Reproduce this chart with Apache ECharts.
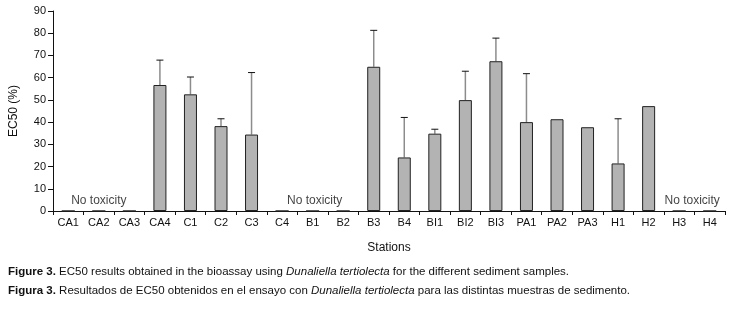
<!DOCTYPE html>
<html>
<head>
<meta charset="utf-8">
<script src="https://cdn.jsdelivr.net/npm/echarts@6/dist/echarts.min.js"></script>
<style>
  html, body { margin: 0; padding: 0; background: #fff; }
  #chart { width: 731px; height: 311px; }
</style>
</head>
<body>
<div id="chart"></div>
<script>
const stations = ['CA1', 'CA2', 'CA3', 'CA4', 'C1', 'C2', 'C3', 'C4', 'B1', 'B2', 'B3', 'B4',
  'BI1', 'BI2', 'BI3', 'PA1', 'PA2', 'PA3', 'H1', 'H2', 'H3', 'H4'];
// EC50 (%) per station, 0 = no toxicity
const ec50 = [0, 0, 0, 56.7, 52.5, 38.2, 34.4, 0, 0, 0, 64.9, 24.1,
  34.8, 49.9, 67.4, 40.0, 41.3, 37.7, 21.4, 47.2, 0, 0];
// upper end of the error bar (null = none)
const errTop = [null, null, null, 67.9, 60.3, 41.5, 62.3, null, null, null, 81.3, 42.1,
  36.8, 62.9, 77.8, 61.8, null, null, 41.5, null, null, null];
const noToxAt = ['CA2', 'B1', 'H3'];
const yTicks = [0, 10, 20, 30, 40, 50, 60, 70, 80, 90];

const font = '"Liberation Sans", Arial, sans-serif';
const chart = echarts.init(document.getElementById('chart'));

const errData = [];
errTop.forEach((t, i) => { if (t !== null) errData.push([i, ec50[i], t]); });

chart.setOption({
  animation: false,
  grid: { left: 53, right: 6, top: 11, bottom: 100 },
  xAxis: {
    type: 'category',
    data: stations,
    name: 'Stations',
    nameLocation: 'middle',
    nameGap: 31,
    nameTextStyle: { fontFamily: font, fontSize: 12, color: '#111' },
    axisLine: { lineStyle: { color: '#111', width: 1 } },
    axisTick: { show: true, length: 4, lineStyle: { color: '#111' } },
    axisLabel: { fontFamily: font, fontSize: 11, color: '#111', margin: 6 }
  },
  yAxis: {
    type: 'value',
    min: 0, max: yTicks[yTicks.length - 1], interval: 10,
    name: 'EC50 (%)',
    nameLocation: 'middle',
    nameGap: 33,
    nameTextStyle: { fontFamily: font, fontSize: 12, color: '#111' },
    axisLine: { show: true, lineStyle: { color: '#111', width: 1 } },
    axisTick: { show: true, length: 5, lineStyle: { color: '#111' } },
    axisLabel: { fontFamily: font, fontSize: 11, color: '#111', margin: 7 },
    splitLine: { show: false }
  },
  series: [
    {
      type: 'bar',
      data: ec50,
      barWidth: 13,
      itemStyle: { color: '#b3b3b3', borderColor: '#222', borderWidth: 1 }
    },
    {
      type: 'custom',
      data: errData,
      z: 1,
      renderItem: (params, api) => {
        const x = api.coord([api.value(0), api.value(1)])[0];
        const yb = api.coord([api.value(0), api.value(1)])[1];
        const yt = api.coord([api.value(0), api.value(2)])[1];
        return {
          type: 'group',
          children: [
            { type: 'line', shape: { x1: x, y1: yb, x2: x, y2: yt }, style: { stroke: '#8c8c8c', lineWidth: 1.5 } },
            { type: 'line', shape: { x1: x - 3.5, y1: yt, x2: x + 3.5, y2: yt }, style: { stroke: '#111', lineWidth: 1 } }
          ]
        };
      }
    },
    {
      type: 'scatter',
      symbolSize: 0,
      data: noToxAt.map(s => [s, 0]),
      label: {
        show: true,
        formatter: 'No toxicity',
        position: 'top',
        distance: 4,
        fontFamily: font,
        fontSize: 12,
        color: '#111'
      },
      labelLayout: p => p.dataIndex === 2 ? { dx: 13 } : (p.dataIndex === 1 ? { dx: 2 } : {})
    }
  ],
  graphic: [
    {
      type: 'text', left: 8, top: 266,
      style: {
        text: '{b|Figure 3.} EC50 results obtained in the bioassay using {i|Dunaliella tertiolecta} for the different sediment samples.',
        fontFamily: font, fontSize: 11.5, fill: '#111',
        rich: { b: { fontWeight: 'bold', fontFamily: font, fontSize: 11.5 }, i: { fontStyle: 'italic', fontFamily: font, fontSize: 11.5 } }
      }
    },
    {
      type: 'text', left: 8, top: 285,
      style: {
        text: '{b|Figura 3.} Resultados de EC50 obtenidos en el ensayo con {i|Dunaliella tertiolecta} para las distintas muestras de sedimento.',
        fontFamily: font, fontSize: 11.5, fill: '#111',
        rich: { b: { fontWeight: 'bold', fontFamily: font, fontSize: 11.5 }, i: { fontStyle: 'italic', fontFamily: font, fontSize: 11.5 } }
      }
    }
  ]
});
</script>
</body>
</html>
